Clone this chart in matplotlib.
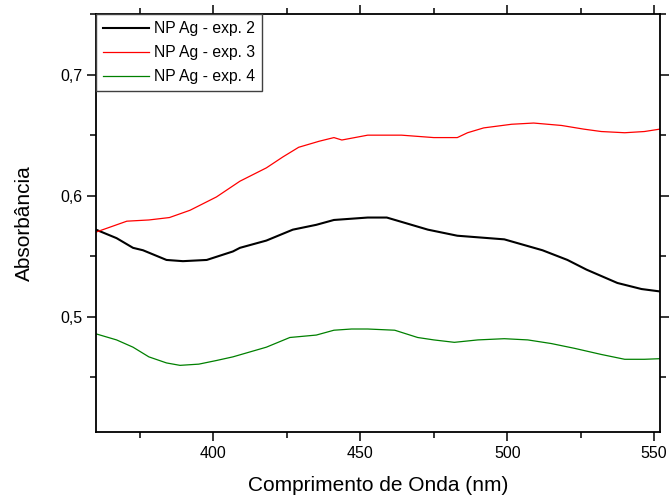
import matplotlib.pyplot as plt
from matplotlib.ticker import MultipleLocator, FuncFormatter

plt.rcParams['font.family'] = ['Liberation Sans', 'DejaVu Sans']

# ---- data ----
wl_exp2 = [360, 367, 372.6, 376, 384, 389.6, 397.7, 406.6, 409, 418, 427, 435,
           441, 452.5, 459, 473, 483, 499, 512, 520.5, 527, 537.5, 545.7, 552]
abs_exp2 = [0.572, 0.565, 0.557, 0.555, 0.547, 0.546, 0.547, 0.554, 0.557, 0.563,
            0.572, 0.576, 0.580, 0.582, 0.582, 0.572, 0.567, 0.564, 0.555, 0.547,
            0.539, 0.528, 0.523, 0.521]

wl_exp3 = [360, 370.5, 378, 385, 392, 401, 409, 418, 423.6, 429, 436, 441, 443.7,
           452.5, 464, 475, 483, 486.5, 492, 501.5, 509, 518.5, 526, 532, 540,
           546.7, 552]
abs_exp3 = [0.570, 0.579, 0.580, 0.582, 0.588, 0.599, 0.612, 0.623, 0.632, 0.640,
            0.645, 0.648, 0.646, 0.650, 0.650, 0.648, 0.648, 0.652, 0.656, 0.659,
            0.660, 0.658, 0.655, 0.653, 0.652, 0.653, 0.655]

wl_exp4 = [360, 367, 372.6, 378, 384, 388.6, 395, 401, 406.6, 418, 426, 435, 441,
           447, 452.5, 461.7, 469.5, 475, 482, 490, 499, 507, 515, 523, 532, 540,
           546.7, 552]
abs_exp4 = [0.486, 0.481, 0.475, 0.467, 0.462, 0.460, 0.461, 0.464, 0.467, 0.475,
            0.483, 0.485, 0.489, 0.490, 0.490, 0.489, 0.483, 0.481, 0.479, 0.481,
            0.482, 0.481, 0.478, 0.474, 0.469, 0.465, 0.465, 0.4655]

labels = ['NP Ag - exp. 2', 'NP Ag - exp. 3', 'NP Ag - exp. 4']

fig = plt.figure(figsize=(6.69, 4.95), dpi=100)
ax = fig.add_axes([0.1435, 0.1273, 0.843, 0.8444])

ax.plot(wl_exp2, abs_exp2, color='black', lw=1.5, label=labels[0])
ax.plot(wl_exp3, abs_exp3, color='#ff0000', lw=0.9, label=labels[1])
ax.plot(wl_exp4, abs_exp4, color='#008000', lw=0.9, label=labels[2])

ax.set_xlim(360, 552)
ax.set_ylim(0.405, 0.75)

ax.xaxis.set_major_locator(MultipleLocator(50))
ax.xaxis.set_minor_locator(MultipleLocator(25))
ax.yaxis.set_major_locator(MultipleLocator(0.1))
ax.yaxis.set_minor_locator(MultipleLocator(0.05))
ax.yaxis.set_major_formatter(FuncFormatter(lambda v, p: ('%.1f' % v).replace('.', ',')))

ax.tick_params(which='both', direction='out', top=True, right=True,
               labeltop=False, labelright=False, width=1.1, labelsize=11.5)
ax.tick_params(which='major', length=6.3)
ax.tick_params(which='minor', length=4)
for s in ax.spines.values():
    s.set_linewidth(1.3)

ax.set_xlabel('Comprimento de Onda (nm)', fontsize=15, labelpad=11)
ax.set_ylabel('Absorbância', fontsize=15, labelpad=19)

leg = ax.legend(loc='upper left', bbox_to_anchor=(0, 1), borderaxespad=0,
                fontsize=11.3, handlelength=2.93, handletextpad=0.32,
                labelspacing=0.58, fancybox=False, framealpha=1,
                edgecolor='#404040', borderpad=0.45)
leg.get_frame().set_linewidth(1.0)

fig.savefig('out.png', dpi=100)
